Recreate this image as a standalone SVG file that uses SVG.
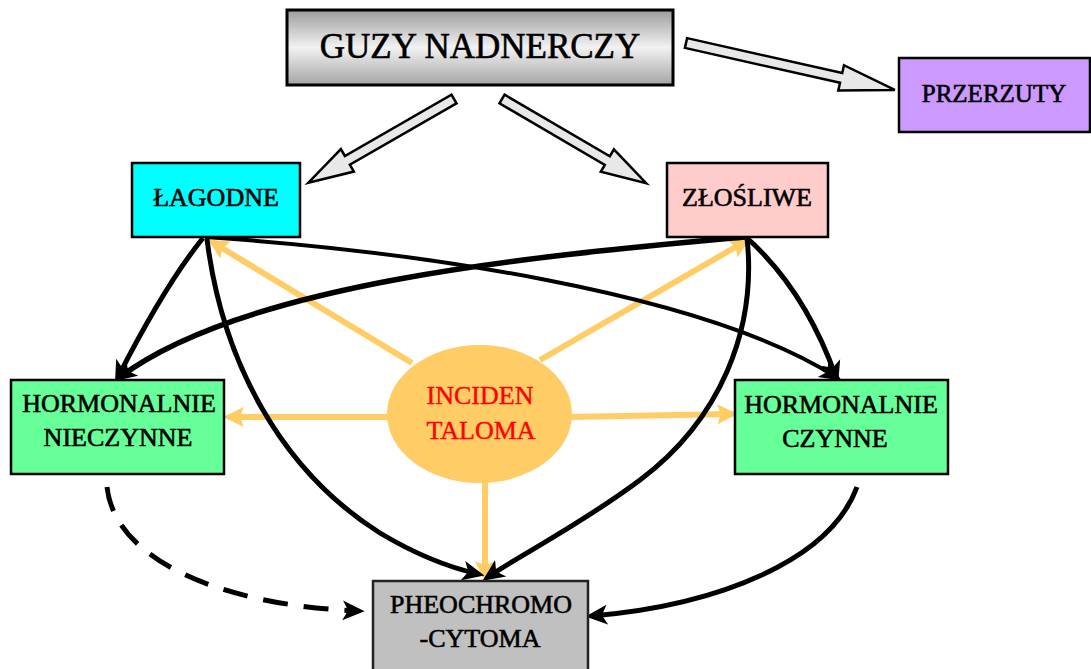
<svg xmlns="http://www.w3.org/2000/svg" width="1091" height="669" viewBox="0 0 1091 669">
<defs>
<linearGradient id="gGray" x1="0" y1="0" x2="0" y2="1">
<stop offset="0" stop-color="#9c9c9c"/>
<stop offset="0.5" stop-color="#f2f2f2"/>
<stop offset="1" stop-color="#a4a4a4"/>
</linearGradient>
<marker id="ah" markerUnits="userSpaceOnUse" markerWidth="22" markerHeight="22" viewBox="0 0 20 18" refX="14" refY="9" orient="auto">
<path d="M0,0 L20,9 L0,18 L5,9 z" fill="#000"/>
</marker>
<marker id="ao" markerUnits="userSpaceOnUse" markerWidth="20" markerHeight="20" viewBox="0 0 18 18" refX="14" refY="9" orient="auto">
<path d="M0,0 L18,9 L0,18 L3,9 z" fill="#FFCC66"/>
</marker>
<style>
.box{stroke:#000;stroke-width:2.5}
.t{font-family:"Liberation Serif","Times New Roman",serif;font-size:26px;fill:#000;stroke:#000;stroke-width:0.6;text-anchor:middle}
.red{fill:#FF0000;stroke:#FF0000;stroke-width:0.4}
.blk{fill:none;stroke:#000;stroke-width:5;marker-end:url(#ah)}
.org{fill:none;stroke:#FFCC66;stroke-width:6;marker-end:url(#ao)}
.barrow{fill:#E8E8E8;stroke:#000;stroke-width:2.5;stroke-linejoin:miter}
</style>
</defs>
<rect width="1091" height="669" fill="#fff"/>
<g id="connectors">
<polygon class="barrow" transform="translate(686,43) rotate(12.67)" points="0,-5 159,-5 159,-13 214,0 159,13 159,5 0,5"/>
<polygon class="barrow" transform="translate(454,99) rotate(150.1)" points="0,-5 123,-5 123,-13 168,0 123,13 123,5 0,5"/>
<polygon class="barrow" transform="translate(502,99) rotate(30.3)" points="0,-5 122,-5 122,-13 167,0 122,13 122,5 0,5"/>
<path class="org" d="M412,363 L212,242"/>
<path class="org" d="M540,360 L746,241"/>
<path class="org" d="M390,417 L228,417"/>
<path class="org" d="M568,417 L733,414"/>
<path class="org" d="M485,480 L485,577"/>
<path class="blk" d="M203,238 Q165,285 118,377"/>
<path class="blk" style="stroke-width:5.5" d="M745,237 C550,255 250,280 120,377"/>
<path class="blk" style="stroke-width:4" d="M205,237 C400,250 700,290 836,377"/>
<path class="blk" d="M747,238 Q805,290 836,377"/>
<path class="blk" d="M207,239 C222,360 280,470 380,533 Q430,563 478,574"/>
<path class="blk" d="M747,238 C757,330 720,420 640,480 C580,525 520,555 488,577"/>
<path class="blk" d="M857,487 C830,560 720,605 592,616"/>
<path class="blk" style="stroke-dasharray:25,16" d="M107,487 C115,560 220,605 358,611"/>
</g>
<g id="guzy">
<rect x="287" y="10" width="386" height="75" fill="url(#gGray)" stroke="#000" stroke-width="3"/>
<text class="t" x="480" y="58" style="font-size:35px">GUZY NADNERCZY</text>
</g>
<g id="przerzuty">
<rect class="box" x="899" y="58" width="191" height="74" fill="#CC99FF"/>
<text class="t" x="994" y="102" style="font-size:25px">PRZERZUTY</text>
</g>
<g id="lagodne">
<rect class="box" x="132" y="163" width="168" height="74" fill="#00FFFF"/>
<text class="t" x="216" y="206">ŁAGODNE</text>
</g>
<g id="zlosliwe">
<rect class="box" x="667" y="163" width="161" height="74" fill="#FFCCCC"/>
<text class="t" x="747" y="206">ZŁOŚLIWE</text>
</g>
<g id="nieczynne">
<rect class="box" x="11" y="380" width="213" height="94" fill="#66FF99"/>
<text class="t" x="119" y="412">HORMONALNIE</text>
<text class="t" x="118" y="446">NIECZYNNE</text>
</g>
<g id="czynne">
<rect class="box" x="735" y="380" width="213" height="94" fill="#66FF99"/>
<text class="t" x="841" y="413">HORMONALNIE</text>
<text class="t" x="835" y="447">CZYNNE</text>
</g>
<g id="incidentaloma">
<ellipse cx="479.5" cy="414" rx="92.5" ry="69" fill="#FFCC66"/>
<text class="t red" x="480" y="404">INCIDEN</text>
<text class="t red" x="481" y="439">TALOMA</text>
</g>
<g id="pheo">
<rect x="373" y="581" width="215" height="90" fill="#C0C0C0" stroke="#222" stroke-width="2.5"/>
<text class="t" x="481" y="613">PHEOCHROMO</text>
<text class="t" x="480" y="647">-CYTOMA</text>
</g>
</svg>
